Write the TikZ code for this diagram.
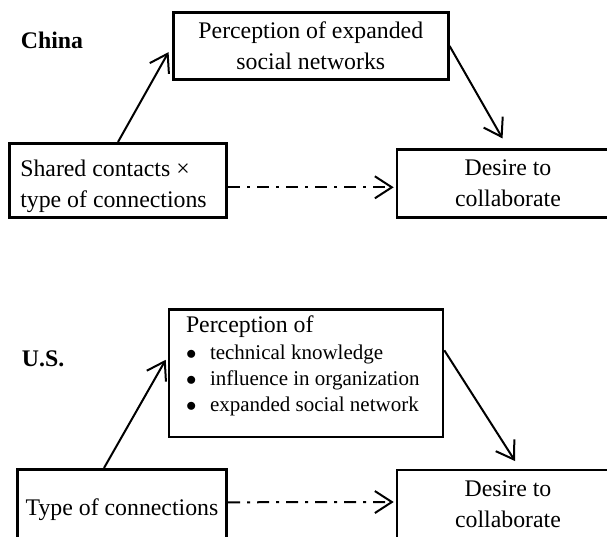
\documentclass[tikz,border=0pt]{standalone}
\usepackage{fontspec}
\setmainfont{Liberation Serif}
\usetikzlibrary{arrows.meta, positioning, calc}

\begin{document}
\begin{tikzpicture}[x=1pt, y=-1pt,
    box/.style={draw, line width=2.6pt, inner sep=0pt, font=\fontsize{23.8}{31}\selectfont},
    country/.style={anchor=west, inner sep=0pt, font=\fontsize{23.8}{31}\selectfont\bfseries},
    link/.style={line width=2pt, -{Straight Barb[length=17pt,width=22pt]}},
    dashdot/.style={link, dash pattern=on 12pt off 7pt on 3pt off 7pt}
    ]
    \useasboundingbox (0,0) rectangle (607,537);
    \clip (0,0) rectangle (607,537);

    % China
    \node[country] (cn) at (20.7,40) {China};
    \node[box, minimum width=275pt, minimum height=66.6pt, align=center] (pc) at (310.8,46) {Perception of expanded\\social networks};
    \node[box, minimum height=74pt, text width=195.4pt, inner xsep=11pt, align=flush left] (lc) at (118,180.3) {\rule{0pt}{28pt}Shared contacts ×\\type of connections};
    \node[box, minimum width=222pt, minimum height=68pt, align=center] (dc) at (508,183.3) {Desire to\\collaborate};

    \draw
        (lc.north) edge[link, shorten >=7pt] (pc.west)
        (pc.east) edge[link, shorten >=11pt] (dc.north)
        ([yshift=-7pt]lc.east) edge[dashdot, shorten >=2pt] ([yshift=-4pt]dc.west)
        ;

    % U.S.
    \node[country] (us) at (21.7,359) {U.S.};
    \node[box, anchor=north west, minimum width=274pt, minimum height=127.4pt, text width=240pt, inner xsep=17pt, align=flush left, font=\fontsize{21}{26}\selectfont] (pu) at (167.7,308.3)
        {{\fontsize{23.8}{26}\selectfont Perception of}\\[1pt]
        \makebox[24pt][l]{$\bullet$}technical knowledge\\
        \makebox[24pt][l]{$\bullet$}influence in organization\\
        \makebox[24pt][l]{$\bullet$}expanded social network\rule[-18.5pt]{0pt}{1pt}};
    \node[box, minimum width=209.4pt, minimum height=74pt] (lu) at (122,506.3) {\rule{0pt}{24pt}Type of connections};
    \node[box, minimum width=222pt, minimum height=68pt, align=center] (du) at (508,504) {Desire to\\collaborate};

    \draw
        ([xshift=-18pt]lu.north) edge[link, shorten >=4pt] ([yshift=17pt]pu.west)
        ([yshift=23pt]pu.east) edge[link, shorten >=9pt] ([xshift=12pt]du.north)
        ([yshift=4pt]lu.east) edge[dashdot, shorten >=2pt] ([yshift=2pt]du.west)
        ;
\end{tikzpicture}
\end{document}
